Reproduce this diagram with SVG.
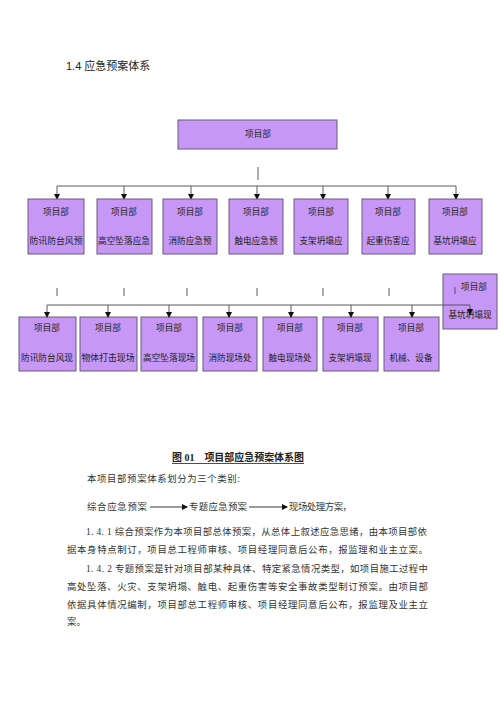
<svg xmlns="http://www.w3.org/2000/svg" width="500" height="707" viewBox="0 0 500 707">
<style>
.box{fill:#c697f4;stroke:#6a5a7c;stroke-width:1}
.nt{font-family:'Liberation Serif','Noto Sans CJK SC',serif;font-size:8.6px;fill:#222;text-anchor:middle}
.ln{stroke:#4a4a4a;stroke-width:0.9;fill:none}
.body{font-family:'Liberation Serif','Noto Sans CJK SC',serif;font-size:9.4px;fill:#333}
</style>
<defs>
<marker id="ah" markerWidth="6" markerHeight="6" refX="5" refY="3" orient="auto" markerUnits="userSpaceOnUse">
<path d="M0,0 L6,3 L0,6 Z" fill="#111"/>
</marker>
</defs>
<rect width="500" height="707" fill="#fff"/>
<text x="66" y="70" font-family="'Liberation Sans','Noto Sans CJK SC',sans-serif" font-size="11px" fill="#222">1.4 应急预案体系</text>

<g id="connectors">
<line class="ln" x1="258" y1="167" x2="258" y2="180"/>
<line class="ln" x1="57" y1="186" x2="456" y2="186"/>
<line class="ln" x1="57" y1="186" x2="57" y2="199" marker-end="url(#ah)"/>
<line class="ln" x1="124" y1="186" x2="124" y2="199" marker-end="url(#ah)"/>
<line class="ln" x1="191" y1="186" x2="191" y2="199" marker-end="url(#ah)"/>
<line class="ln" x1="257" y1="186" x2="257" y2="199" marker-end="url(#ah)"/>
<line class="ln" x1="323" y1="186" x2="323" y2="199" marker-end="url(#ah)"/>
<line class="ln" x1="388" y1="186" x2="388" y2="199" marker-end="url(#ah)"/>
<line class="ln" x1="456" y1="186" x2="456" y2="199" marker-end="url(#ah)"/>
<line class="ln" x1="57" y1="288" x2="57" y2="296"/>
<line class="ln" x1="124" y1="288" x2="124" y2="296"/>
<line class="ln" x1="187" y1="288" x2="187" y2="296"/>
<line class="ln" x1="257" y1="288" x2="257" y2="296"/>
<line class="ln" x1="323" y1="288" x2="323" y2="296"/>
<line class="ln" x1="389" y1="288" x2="389" y2="296"/>
</g>

<g id="n0"><rect class="box" x="178" y="120" width="159" height="29"/><text class="nt" x="258" y="137" font-size="10px">项目部</text></g>

<g id="a1"><rect class="box" x="28" y="199" width="56" height="55"/><text class="nt" x="56" y="215">项目部</text><text class="nt" x="56" y="244" textLength="53" lengthAdjust="spacingAndGlyphs">防讯防台风预</text></g>
<g id="a2"><rect class="box" x="97" y="199" width="55" height="55"/><text class="nt" x="124" y="215">项目部</text><text class="nt" x="124" y="244" textLength="52" lengthAdjust="spacingAndGlyphs">高空坠落应急</text></g>
<g id="a3"><rect class="box" x="163" y="199" width="54" height="55"/><text class="nt" x="190" y="215">项目部</text><text class="nt" x="190" y="244">消防应急预</text></g>
<g id="a4"><rect class="box" x="229" y="199" width="54" height="55"/><text class="nt" x="256" y="215">项目部</text><text class="nt" x="256" y="244">触电应急预</text></g>
<g id="a5"><rect class="box" x="294" y="199" width="54" height="55"/><text class="nt" x="321" y="215">项目部</text><text class="nt" x="321" y="244">支架坍塌应</text></g>
<g id="a6"><rect class="box" x="362" y="199" width="53" height="55"/><text class="nt" x="388" y="215">项目部</text><text class="nt" x="388" y="244">起重伤害应</text></g>
<g id="a7"><rect class="box" x="429" y="199" width="53" height="55"/><text class="nt" x="455" y="215">项目部</text><text class="nt" x="455" y="244">基坑坍塌应</text></g>

<g id="b1"><rect class="box" x="19" y="317" width="57" height="54"/><text class="nt" x="47" y="331">项目部</text><text class="nt" x="47" y="361" textLength="52" lengthAdjust="spacingAndGlyphs">防讯防台风现</text></g>
<g id="b2"><rect class="box" x="80" y="317" width="57" height="54"/><text class="nt" x="108" y="331">项目部</text><text class="nt" x="108" y="361" textLength="53" lengthAdjust="spacingAndGlyphs">物体打击现场</text></g>
<g id="b3"><rect class="box" x="141" y="317" width="56" height="54"/><text class="nt" x="169" y="331">项目部</text><text class="nt" x="169" y="361" textLength="52" lengthAdjust="spacingAndGlyphs">高空坠落现场</text></g>
<g id="b4"><rect class="box" x="203" y="317" width="54" height="54"/><text class="nt" x="230" y="331">项目部</text><text class="nt" x="230" y="361">消防现场处</text></g>
<g id="b5"><rect class="box" x="263" y="317" width="54" height="54"/><text class="nt" x="290" y="331">项目部</text><text class="nt" x="290" y="361">触电现场处</text></g>
<g id="b6"><rect class="box" x="323" y="317" width="55" height="54"/><text class="nt" x="350" y="331">项目部</text><text class="nt" x="350" y="361">支架坍塌现</text></g>
<g id="b7"><rect class="box" x="384" y="317" width="55" height="54"/><text class="nt" x="411" y="331">项目部</text><text class="nt" x="411" y="361">机械、设备</text></g>
<g id="b8"><rect class="box" x="443" y="274" width="54" height="55"/><text class="nt" x="474" y="290">项目部</text><text class="nt" x="470" y="318">基坑坍塌现</text></g>

<g id="connectors2">
<line class="ln" x1="455" y1="287" x2="455" y2="294"/>
<line class="ln" x1="47" y1="305" x2="470" y2="305"/>
<line class="ln" x1="47" y1="305" x2="47" y2="317" marker-end="url(#ah)"/>
<line class="ln" x1="108" y1="305" x2="108" y2="317" marker-end="url(#ah)"/>
<line class="ln" x1="169" y1="305" x2="169" y2="317" marker-end="url(#ah)"/>
<line class="ln" x1="229" y1="305" x2="229" y2="317" marker-end="url(#ah)"/>
<line class="ln" x1="291" y1="305" x2="291" y2="317" marker-end="url(#ah)"/>
<line class="ln" x1="351" y1="305" x2="351" y2="317" marker-end="url(#ah)"/>
<line class="ln" x1="412" y1="305" x2="412" y2="317" marker-end="url(#ah)"/>
<line class="ln" x1="470" y1="305" x2="470" y2="314" marker-end="url(#ah)"/>
</g>

<text x="172" y="461" font-family="'Liberation Serif','Noto Sans CJK SC',serif" font-size="10.5px" font-weight="bold" fill="#222" textLength="132" lengthAdjust="spacingAndGlyphs">图 01　项目部应急预案体系图</text>
<line x1="172" y1="463.5" x2="304" y2="463.5" stroke="#222" stroke-width="0.8"/>

<text class="body" x="87" y="482" textLength="153" lengthAdjust="spacing">本项目部预案体系划分为三个类别:</text>
<text class="body" x="87" y="510" textLength="60" lengthAdjust="spacing">综合应急预案</text>
<line x1="150" y1="507" x2="187" y2="507" stroke="#222" stroke-width="0.9" marker-end="url(#ah)"/>
<text class="body" x="189" y="510" textLength="58" lengthAdjust="spacing">专题应急预案</text>
<line x1="249" y1="507" x2="287" y2="507" stroke="#222" stroke-width="0.9" marker-end="url(#ah)"/>
<text class="body" x="289" y="510" textLength="63" lengthAdjust="spacing">现场处理方案，</text>

<text class="body" x="86" y="535" textLength="341" lengthAdjust="spacing">1. 4. 1 综合预案作为本项目部总体预案，从总体上叙述应急思绪，由本项目部依</text>
<text class="body" x="67" y="553" textLength="361" lengthAdjust="spacing">据本身特点制订，项目总工程师审核、项目经理同意后公布，报监理和业主立案。</text>
<text class="body" x="86" y="572" textLength="342" lengthAdjust="spacing">1. 4. 2 专题预案是针对项目部某种具体、特定紧急情况类型，如项目施工过程中</text>
<text class="body" x="67" y="590" textLength="361" lengthAdjust="spacing">高处坠落、火灾、支架坍塌、触电、起重伤害等安全事故类型制订预案。由项目部</text>
<text class="body" x="67" y="608" textLength="361" lengthAdjust="spacing">依据具体情况编制，项目部总工程师审核、项目经理同意后公布，报监理及业主立</text>
<text class="body" x="67" y="625">案。</text>
</svg>
